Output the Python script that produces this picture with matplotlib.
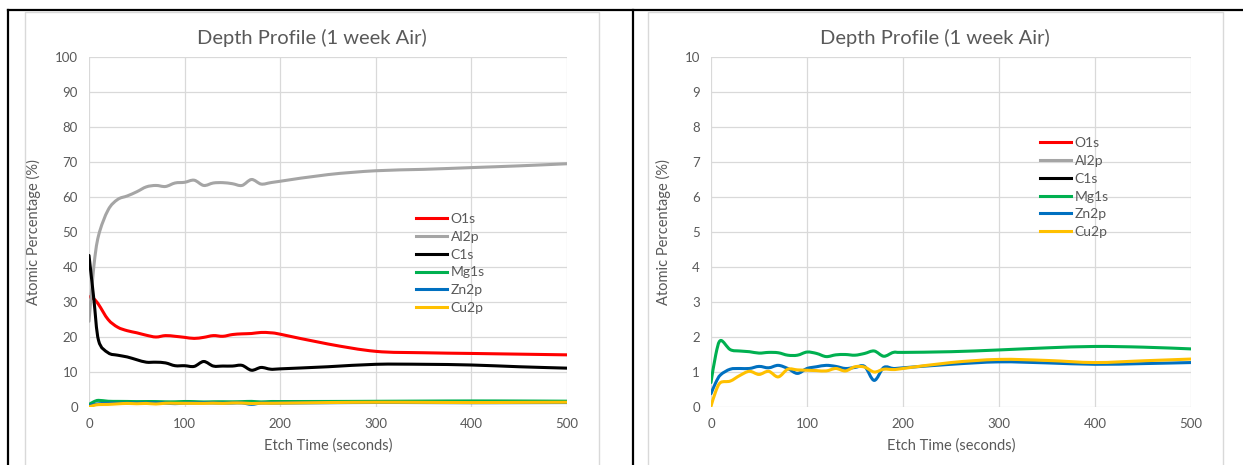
import numpy as np
import matplotlib.pyplot as plt
from matplotlib.lines import Line2D
from matplotlib.path import Path
from matplotlib.patches import PathPatch

plt.rcParams['font.family'] = ['Lato', 'DejaVu Sans']

# etch time (s)
t = [0, 5, 10, 20, 30, 40, 50, 60, 70, 80, 90, 100, 110, 120, 130, 140, 150,
     160, 170, 180, 190, 200, 250, 300, 350, 400, 450, 500]

o1s = [31.5, 30.9, 29.3, 25.0, 22.8, 21.8, 21.2, 20.5, 20.0, 20.4, 20.2, 19.9,
       19.6, 19.9, 20.4, 20.2, 20.7, 20.9, 21.0, 21.3, 21.2, 20.8, 18.0, 15.9,
       15.5, 15.3, 15.1, 14.9]
al2p = [24.5, 40.0, 49.0, 56.3, 59.3, 60.3, 61.5, 62.9, 63.3, 63.0, 64.0, 64.2,
        64.8, 63.3, 64.0, 64.1, 63.8, 63.3, 65.0, 63.7, 64.1, 64.5, 66.4, 67.5,
        67.9, 68.4, 68.9, 69.5]
c1s = [43.3, 31.0, 19.0, 15.5, 14.8, 14.3, 13.5, 12.8, 12.8, 12.6, 11.8, 11.8,
       11.6, 13.0, 11.7, 11.7, 11.7, 11.9, 10.5, 11.3, 10.8, 10.9, 11.5, 12.2,
       12.2, 12.0, 11.5, 11.1]
mg1s = [0.70, 1.50, 1.90, 1.64, 1.60, 1.58, 1.54, 1.56, 1.55, 1.48, 1.48, 1.57,
        1.53, 1.44, 1.49, 1.50, 1.48, 1.53, 1.60, 1.45, 1.56, 1.56, 1.58, 1.63,
        1.69, 1.73, 1.71, 1.66]
zn2p = [0.38, 0.70, 0.92, 1.08, 1.10, 1.10, 1.16, 1.12, 1.19, 1.10, 0.96, 1.10,
        1.15, 1.19, 1.16, 1.10, 1.13, 1.16, 0.76, 1.13, 1.10, 1.12, 1.22, 1.29,
        1.26, 1.22, 1.24, 1.27]
cu2p = [0.02, 0.45, 0.70, 0.74, 0.90, 1.02, 0.93, 1.02, 0.86, 1.08, 1.06, 1.05,
        1.04, 1.03, 1.10, 1.03, 1.15, 1.14, 1.00, 1.08, 1.07, 1.10, 1.27, 1.36,
        1.33, 1.27, 1.32, 1.37]

names = ['O1s', 'Al2p', 'C1s', 'Mg1s', 'Zn2p', 'Cu2p']
series = [o1s, al2p, c1s, mg1s, zn2p, cu2p]
colors = ['#FF0000', '#A5A5A5', '#000000', '#00B050', '#0070C0', '#FFC000']


def smooth_path(x, y):
    # Excel-style smoothed line: cubic bezier through the points
    p = np.column_stack([x, y]).astype(float)
    q = np.vstack([p[0], p, p[-1]])
    verts = [p[0]]
    codes = [Path.MOVETO]
    for i in range(len(p) - 1):
        c1 = q[i + 1] + (q[i + 2] - q[i]) / 6
        c2 = q[i + 2] - (q[i + 3] - q[i + 1]) / 6
        verts += [c1, c2, p[i + 1]]
        codes += [Path.CURVE4] * 3
    return Path(verts, codes)


W, H = 1243, 465
fig = plt.figure(figsize=(W / 100, H / 100), dpi=100)
txt = '#595959'

# page frame (table lines) and chart borders
for xs, ys in [([8, 1243], [10, 10]), ([8, 8], [10, 465]), ([633, 633], [10, 465])]:
    fig.add_artist(Line2D([x / W for x in xs], [1 - y / H for y in ys],
                          color='black', lw=1.6))
for x0, x1 in [(25, 599), (648, 1223)]:
    fig.add_artist(Line2D([x0 / W, x0 / W, x1 / W, x1 / W],
                          [0, 1 - 12 / H, 1 - 12 / H, 0], color='#D9D9D9', lw=1))

panels = [
    dict(rect=(89, 567), ymax=100, step=10, cx=312, leg=(416, 213)),
    dict(rect=(711, 1191), ymax=10, step=1, cx=935, leg=(1040, 137)),
]

for p in panels:
    x0, x1 = p['rect']
    ax = fig.add_axes([x0 / W, 1 - 407 / H, (x1 - x0) / W, 350 / H])
    handles = []
    for name, s, c in zip(names, series, colors):
        ax.add_patch(PathPatch(smooth_path(t, s), facecolor='none', edgecolor=c,
                               lw=2.2, capstyle='round', joinstyle='round'))
        handles.append(Line2D([], [], color=c, lw=2.2, label=name))
    ax.set_xlim(0, 500)
    ax.set_ylim(0, p['ymax'])
    ax.set_xticks(np.arange(0, 501, 100))
    ax.set_yticks(np.arange(0, p['ymax'] + p['step'] / 2, p['step']))
    ax.grid(True, color='#D9D9D9', lw=0.9)
    ax.set_axisbelow(True)
    for sp in ax.spines.values():
        sp.set_visible(False)
    ax.tick_params(length=0, labelsize=9.5, labelcolor=txt, pad=8)
    ax.set_xlabel('Etch Time (seconds)', fontsize=10.5, color=txt, labelpad=6)
    ax.set_ylabel('Atomic Percentage (%)', fontsize=10.5, color=txt, labelpad=10)
    fig.text(p['cx'] / W, 1 - 38 / H, 'Depth Profile (1 week Air)', ha='center',
             va='center', fontsize=14.5, color=txt)
    lx, ly = p['leg']
    leg = ax.legend(handles=handles, loc='upper left',
                    bbox_to_anchor=(lx / W, 1 - ly / H),
                    bbox_transform=fig.transFigure, frameon=False, fontsize=10,
                    handlelength=2.25, handletextpad=0.25, labelspacing=0.42,
                    borderpad=0, borderaxespad=0)
    for tx in leg.get_texts():
        tx.set_color(txt)

fig.savefig('out.png', dpi=100)
